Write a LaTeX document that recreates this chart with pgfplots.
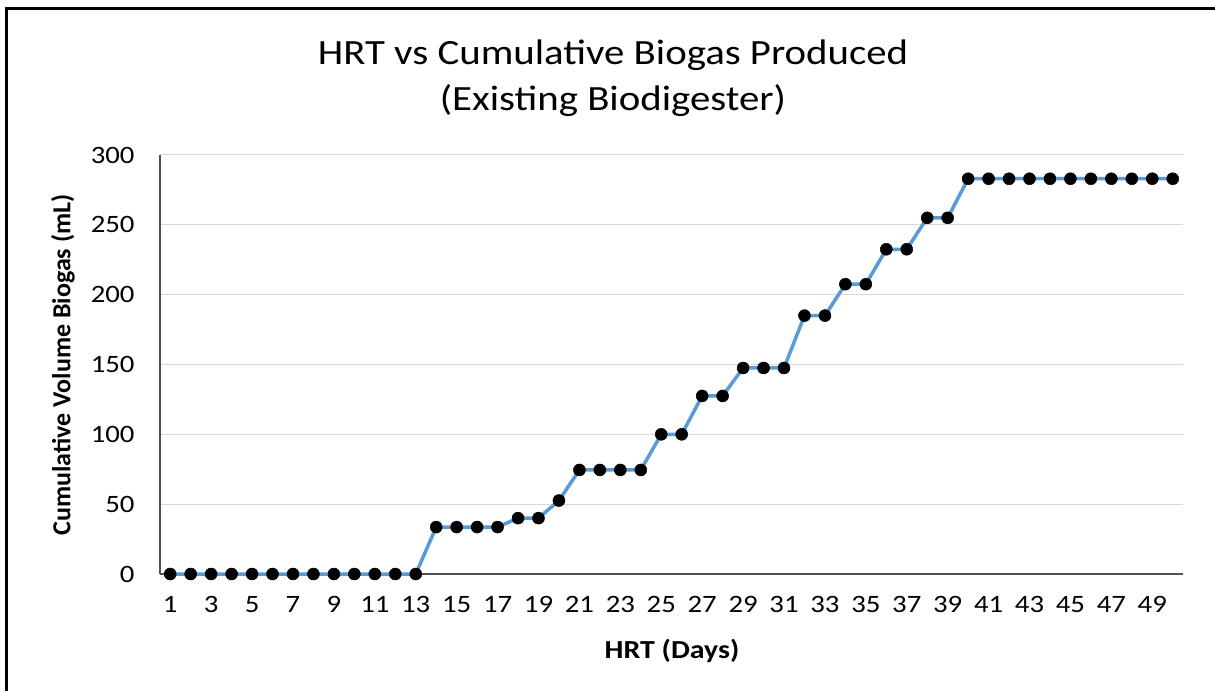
\documentclass[border=0pt]{standalone}
\usepackage{fontspec}
\setmainfont{Carlito}[FakeStretch=1.15]
\newfontfamily\vfont{Carlito}
\usepackage{pgfplots}
\pgfplotsset{compat=1.18}
\definecolor{lineblue}{RGB}{91,155,213}
\definecolor{gridgray}{RGB}{217,217,217}
\definecolor{axgray}{RGB}{80,80,80}
\begin{document}
\begin{tikzpicture}[x=1pt,y=1pt]
\useasboundingbox (0,0) rectangle (1215,691);
\fill[white] (0,0) rectangle (1215,691);
\draw[black,line width=3pt] (6.5,0) -- (6.5,682.5) -- (1215,682.5);
\begin{axis}[
  at={(160pt,117pt)}, anchor=south west,
  scale only axis, width=1023pt, height=419pt,
  xmin=0.5, xmax=50.5, ymin=0, ymax=300,
  xtick={1,3,...,49}, ytick={0,50,...,300},
  major tick length=0pt,
  axis x line*=bottom, axis y line*=left,
  axis line style={axgray,line width=1.3pt},
  x axis line style={-}, y axis line style={-},
  ymajorgrids, major grid style={gridgray,line width=1pt},
  xticklabel style={font=\fontsize{25}{25}\selectfont, yshift=-19pt},
  yticklabel style={font=\fontsize{25}{25}\selectfont, xshift=-22pt},
  /pgf/number format/assume math mode=true,
  clip=false,
]
\addplot[lineblue, line width=3.5pt, mark=*, mark size=6pt,
  mark options={fill=black, draw=black, line width=0.5pt}]
  coordinates {
  (1,0)(2,0)(3,0)(4,0)(5,0)(6,0)(7,0)(8,0)(9,0)(10,0)(11,0)(12,0)(13,0)
  (14,33.6)(15,33.6)(16,33.6)(17,33.6)
  (18,40)(19,40)(20,52.6)
  (21,74.5)(22,74.5)(23,74.5)(24,74.5)
  (25,100)(26,100)(27,127.5)(28,127.5)
  (29,147.5)(30,147.5)(31,147.5)
  (32,185)(33,185)(34,207.5)(35,207.5)
  (36,232.5)(37,232.5)(38,255)(39,255)
  (40,283)(41,283)(42,283)(43,283)(44,283)(45,283)(46,283)(47,283)(48,283)(49,283)(50,283)
  };
\end{axis}
\node[align=center,font=\fontsize{35.5}{46}\selectfont] at (613,613) {HRT vs Cumulative Biogas Produced\\(Existing Biodigester)};
\node[font=\fontsize{26}{26}\selectfont\bfseries] at (672,40) {HRT (Days)};
\node[rotate=90,font=\vfont\fontsize{26}{26}\selectfont\bfseries] at (63,326) {Cumulative Volume Biogas (mL)};
\end{tikzpicture}
\end{document}
